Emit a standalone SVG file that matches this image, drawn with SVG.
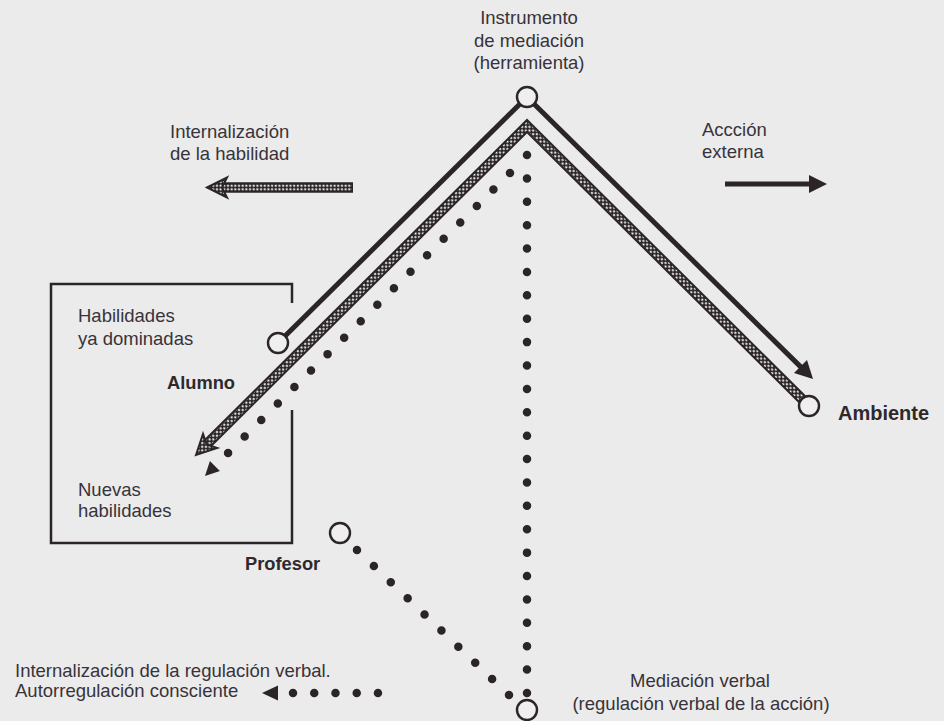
<svg xmlns="http://www.w3.org/2000/svg" width="944" height="721" viewBox="0 0 944 721">
<style>
  .bg{fill:#ebebeb}
  .t{font-family:"Liberation Sans",Arial,sans-serif;font-size:18.5px;fill:#38333a}
  .b{font-weight:bold;font-size:18.3px;fill:#2e292c}
  .solid{stroke:#2b2528;stroke-width:5;fill:none}
  .bandU{stroke:#2b2528;stroke-width:10.5;fill:none;stroke-linejoin:miter;stroke-miterlimit:10}
  .bandP{stroke:url(#chk);stroke-width:6.5;fill:none;stroke-linejoin:miter;stroke-miterlimit:10}
  .dots{stroke:#2b2528;stroke-width:8.5;stroke-linecap:round;fill:none}
  .node{fill:#efefef;stroke:#2b2528;stroke-width:2.4}
  .ink{fill:#2b2528}
  .headP{fill:url(#chk);stroke:#2b2528;stroke-width:2;stroke-linejoin:miter}
  .box{fill:none;stroke:#2b2528;stroke-width:2.5}
</style>
<defs>
  <pattern id="chk" width="5.2" height="5.2" patternUnits="userSpaceOnUse" patternTransform="rotate(45)">
    <rect width="5.2" height="5.2" fill="#2b2528"/>
    <circle cx="1.3" cy="1.3" r="1.1" fill="#f6f6f6"/>
    <circle cx="3.9" cy="3.9" r="1.1" fill="#f6f6f6"/>
  </pattern>
</defs>
<rect class="bg" x="0" y="0" width="944" height="721"/>

<g id="connectors">
  <!-- solid tool lines -->
  <path class="solid" d="M527,97 L278,343"/>
  <path class="solid" d="M527,97 L803.5,369.6"/>
  <polygon class="ink" points="813,379 794,373 807,360"/>
  <!-- checkered band -->
  <path class="bandU" d="M207,444 L527,126 L809,406"/>
  <path class="bandP" d="M207,444 L527,126 L809,406"/>
  <polygon class="headP" points="196,455 203,433.8 206.6,444.4 217.2,448"/>
  <!-- dotted lines -->
  <path class="dots" d="M527,155 V693" stroke-dasharray="0 23.39"/>
  <path class="dots" d="M510,173 L228,453" stroke-dasharray="0 23.37"/>
  <polygon class="ink" points="205,476 209.9,461.1 219.9,471.1"/>
  <path class="dots" d="M357,550 L509,695" stroke-dasharray="0 23.34"/>
  <!-- bottom self-regulation arrow -->
  <path class="dots" d="M293,693 H378" stroke-dasharray="0 21.24"/>
  <polygon class="ink" points="262,693 278,685.5 278,700.5"/>
  <!-- internalización de la habilidad arrow -->
  <path class="bandU" d="M221,187.5 H353" stroke-width="9"/>
  <path class="bandP" d="M221,187.5 H352" stroke-width="5"/>
  <polygon class="headP" points="207,187.5 227,177.5 222,187.5 227,197.5"/>
  <!-- acción externa arrow -->
  <path class="solid" d="M725,184 H812" stroke-width="8"/>
  <polygon class="ink" points="827,184 809,175 809,193"/>
</g>

<g id="instrumento">
  <circle class="node" cx="527" cy="97" r="10"/>
  <text class="t" x="529" y="24" text-anchor="middle">Instrumento</text>
  <text class="t" x="529" y="46.5" text-anchor="middle">de mediación</text>
  <text class="t" x="529" y="69" text-anchor="middle">(herramienta)</text>
</g>

<g id="alumno">
  <path class="box" d="M292,303 V284 H51 V543 H292 V410"/>
  <circle class="node" cx="278" cy="343" r="10"/>
  <text class="t" x="78" y="322">Habilidades</text>
  <text class="t" x="78" y="345">ya dominadas</text>
  <text class="t b" x="167" y="389">Alumno</text>
  <text class="t" x="78" y="496">Nuevas</text>
  <text class="t" x="78" y="517">habilidades</text>
</g>

<g id="ambiente">
  <circle class="node" cx="809" cy="406" r="10"/>
  <text class="t b" x="838" y="420" style="font-size:20px">Ambiente</text>
</g>

<g id="profesor">
  <circle class="node" cx="340" cy="533" r="10"/>
  <text class="t b" x="245" y="570">Profesor</text>
</g>

<g id="mediacion-verbal">
  <circle class="node" cx="527" cy="710" r="10"/>
  <text class="t" x="700" y="687" text-anchor="middle">Mediación verbal</text>
  <text class="t" x="701" y="710" text-anchor="middle">(regulación verbal de la acción)</text>
</g>

<g id="internalizacion-habilidad">
  <text class="t" x="170" y="138">Internalización</text>
  <text class="t" x="170" y="160">de la habilidad</text>
</g>

<g id="accion-externa">
  <text class="t" x="702" y="136">Accción</text>
  <text class="t" x="702" y="158">externa</text>
</g>

<g id="autorregulacion">
  <text class="t" x="15" y="677">Internalización de la regulación verbal.</text>
  <text class="t" x="15" y="697">Autorregulación consciente</text>
</g>
</svg>
